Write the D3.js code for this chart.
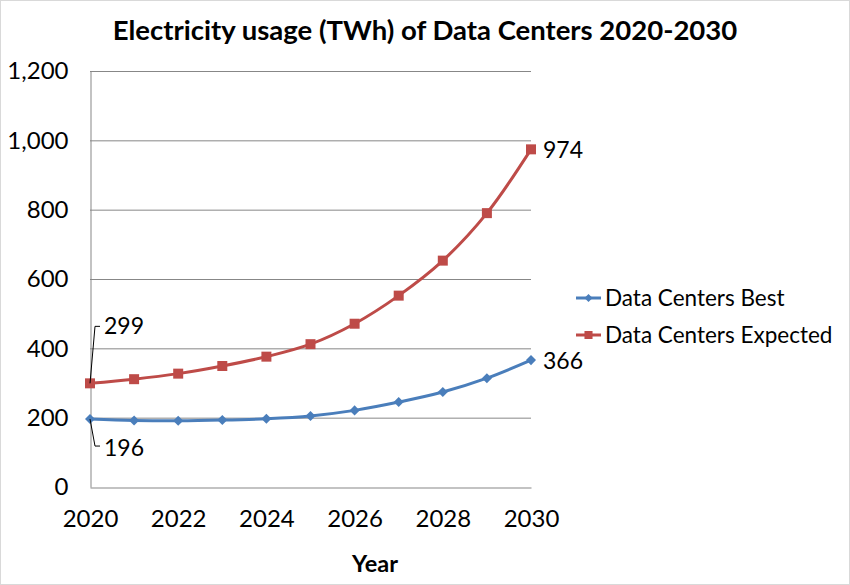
<!DOCTYPE html>
<html>
<head>
<meta charset="utf-8">
<script src="https://cdn.jsdelivr.net/npm/d3@7"></script>
<style>
  body { margin: 0; background: #fff; }
  svg { display: block; font-family: Lato, "Open Sans", sans-serif; }
</style>
</head>
<body>
<div id="chart"></div>
<script>
const years = [2020, 2021, 2022, 2023, 2024, 2025, 2026, 2027, 2028, 2029, 2030];
const bestValues = [196, 192, 191, 193, 197, 205, 221, 245, 274, 314, 366];
const expectedValues = [299, 311, 327, 349, 376, 412, 471, 552, 653, 790, 974];
const yTicks = [0, 200, 400, 600, 800, 1000, 1200];
const xTicks = [2020, 2022, 2024, 2026, 2028, 2030];
const seriesNames = ["Data Centers Best", "Data Centers Expected"];

const width = 850, height = 585;
const margin = {top: 71, right: 319, bottom: 98, left: 90};

const svg = d3.select("#chart").append("svg")
  .attr("width", width)
  .attr("height", height);

svg.append("rect")
  .attr("x", 0.5).attr("y", 0.5)
  .attr("width", width - 1).attr("height", height - 1)
  .attr("fill", "#fff").attr("stroke", "#d9d9d9");

const x = d3.scaleLinear().domain([2020, 2030]).range([margin.left, width - margin.right]);
const y = d3.scaleLinear().domain([0, 1200]).range([height - margin.bottom, margin.top]);

// gridlines
svg.append("g")
  .selectAll("line")
  .data(yTicks.filter(d => d > 0))
  .enter().append("line")
  .attr("x1", x(2020)).attr("x2", x(2030))
  .attr("y1", d => y(d) + 0.5).attr("y2", d => y(d) + 0.5)
  .attr("stroke", "#878787").attr("stroke-width", 1);

// y axis
const yAxis = svg.append("g")
  .attr("transform", "translate(" + (x(2020) + 0.5) + ",0)")
  .call(d3.axisLeft(y).tickValues(yTicks).tickSize(0).tickPadding(22).tickFormat(d3.format(",")));
yAxis.select(".domain").attr("stroke", "#878787");
yAxis.selectAll("text").attr("font-size", 24).attr("fill", "#000").attr("font-family", "Lato");

// x axis
const xAxis = svg.append("g")
  .attr("transform", "translate(0," + (y(0) + 0.5) + ")")
  .call(d3.axisBottom(x).tickValues(xTicks).tickSize(0).tickPadding(22).tickFormat(d3.format("d")));
xAxis.select(".domain").attr("stroke", "#878787");
xAxis.selectAll("text").attr("font-size", 24).attr("fill", "#000").attr("font-family", "Lato");

// title
svg.append("text")
  .attr("x", 425).attr("y", 40)
  .attr("text-anchor", "middle")
  .attr("font-size", 27.5).attr("font-weight", "bold")
  .text("Electricity usage (TWh) of Data Centers 2020-2030");

svg.append("text")
  .attr("x", 375).attr("y", 572)
  .attr("text-anchor", "middle")
  .attr("font-size", 23.5).attr("font-weight", "bold")
  .text("Year");

const diamond = {
  draw(ctx, size) {
    const r = Math.sqrt(size) / 2 * 1.2;
    ctx.moveTo(0, -r); ctx.lineTo(r, 0); ctx.lineTo(0, r); ctx.lineTo(-r, 0); ctx.closePath();
  }
};

const series = [
  {name: seriesNames[0], values: bestValues, color: "#4a7ebb", shape: diamond, size: 70},
  {name: seriesNames[1], values: expectedValues, color: "#be4b48", shape: d3.symbolSquare, size: 100}
];

const line = d3.line()
  .x((d, i) => x(years[i]))
  .y(d => y(d))
  .curve(d3.curveCatmullRom.alpha(0.5));

series.forEach(s => {
  svg.append("path")
    .datum(s.values)
    .attr("fill", "none")
    .attr("stroke", s.color)
    .attr("stroke-width", 3)
    .attr("d", line);
  svg.append("g")
    .selectAll("path")
    .data(s.values)
    .enter().append("path")
    .attr("transform", (d, i) => "translate(" + x(years[i]) + "," + y(d) + ")")
    .attr("d", d3.symbol().type(s.shape).size(s.size))
    .attr("fill", s.color);
});

// data labels
const lbl = (txt, px, py) => svg.append("text")
  .attr("x", px).attr("y", py)
  .attr("font-size", 23)
  .text(txt);

lbl(expectedValues[10], x(2030) + 12, y(expectedValues[10]) + 9);
lbl(bestValues[10], x(2030) + 12, y(bestValues[10]) + 9);
lbl(expectedValues[0], x(2020) + 14, y(expectedValues[0]) - 49);
lbl(bestValues[0], x(2020) + 14, y(bestValues[0]) + 37);

// leader lines
svg.append("path")
  .attr("d", d3.line()([[x(2020), y(expectedValues[0])], [x(2020) + 5, y(expectedValues[0]) - 57], [x(2020) + 10, y(expectedValues[0]) - 57]]))
  .attr("fill", "none").attr("stroke", "#000").attr("stroke-width", 1);
svg.append("path")
  .attr("d", d3.line()([[x(2020), y(bestValues[0])], [x(2020) + 5, y(bestValues[0]) + 27], [x(2020) + 10, y(bestValues[0]) + 27]]))
  .attr("fill", "none").attr("stroke", "#000").attr("stroke-width", 1);

// legend
const legend = svg.append("g");
series.forEach((s, i) => {
  const ly = 298 + i * 37;
  legend.append("line")
    .attr("x1", 576).attr("x2", 601)
    .attr("y1", ly).attr("y2", ly)
    .attr("stroke", s.color).attr("stroke-width", 3);
  legend.append("path")
    .attr("transform", "translate(588.5," + ly + ")")
    .attr("d", d3.symbol().type(s.shape).size(s.size * 0.65))
    .attr("fill", s.color);
  legend.append("text")
    .attr("x", 605).attr("y", ly + 8)
    .attr("font-size", 22.5)
    .text(s.name);
});
</script>
</body>
</html>
